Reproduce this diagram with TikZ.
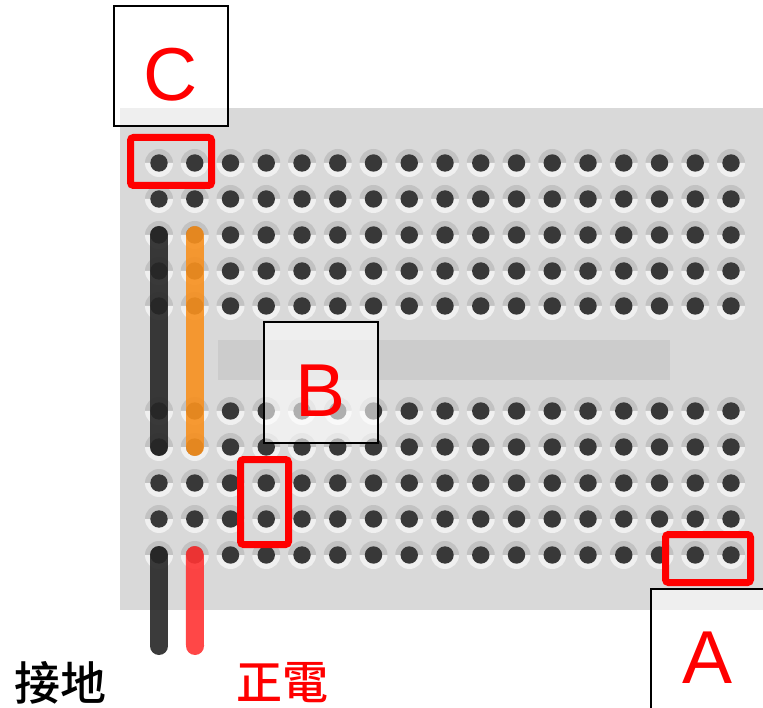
\documentclass[tikz,border=0pt]{standalone}
\usepackage{fontspec}
\setmainfont{Liberation Sans}
\newfontfamily\cjk{Noto Sans CJK TC}[UprightFont={* Medium}]
\definecolor{wireorange}{HTML}{F7901E}
\definecolor{wirered}{HTML}{FF3333}

\begin{document}
\begin{tikzpicture}[x=1pt,y=-1pt,
    hole/.style={fill=black!78},
    wire/.style={line width=18pt,line cap=round,opacity=0.9},
    pick/.style={draw=red,line width=7pt,rounded corners=3pt},
    tag/.style={draw=black,line width=2pt,fill=white,fill opacity=0.6,text opacity=1,
      text=red,font=\fontsize{75}{75}\selectfont,text height=69pt,text depth=0pt,
      minimum width=114pt,minimum height=120pt,inner sep=0pt}]
      \useasboundingbox (0,0) rectangle (763,708);
      \clip (0,0) rectangle (763,708);
      % board and centre channel
      \fill[black!15] (120,108) rectangle (770,610);
      \fill[black!20] (218,340) rectangle (670,380);
      % holes: grey rim above, light rim below
      \foreach \r/\y in {1/163,2/199,3/235,4/271,5/306,6/411,7/447,8/483,9/519,10/555}
        \foreach \c in {1,...,17} {
          \coordinate (h-\r-\c) at ({159+35.75*(\c-1)},\y);
          \fill[black!24] (h-\r-\c) ++(14pt,0) arc[start angle=0,end angle=180,radius=14pt] -- cycle;
          \fill[black!6] (h-\r-\c) ++(14pt,0) arc[start angle=0,end angle=-180,radius=14pt] -- cycle;
          \fill[hole] (h-\r-\c) circle (8.7pt);
        }
      % jumper wires
      \coordinate (gnd) at (159,646);
      \coordinate (vcc) at (195,646);
      \draw[wire,black!85] (h-3-1) -- (h-7-1);
      \draw[wire,wireorange] (h-3-2) -- (h-7-2);
      \draw[wire,black!85] (h-10-1) -- (gnd);
      \draw[wire,wirered] (h-10-2) -- (vcc);
      % marked holes
      \draw[pick] (130.5,137.5) rectangle (211.5,185.5);
      \draw[pick] (240.5,459.5) rectangle (288.5,544.5);
      \draw[pick] (665.5,534.5) rectangle (750.5,582.5);
      \node[tag] (tagC) at (171,66.5) {C};
      \node[tag] (tagB) at (321,382.5) {B};
      \node[tag] (tagA) at (708,648.5) {A};
      \node[font=\cjk\fontsize{46}{46}\selectfont] (ground) at (60,683) {接地};
      \node[font=\cjk\fontsize{46}{46}\selectfont,text=red] (plus) at (282,683) {正電};
\end{tikzpicture}
\end{document}
